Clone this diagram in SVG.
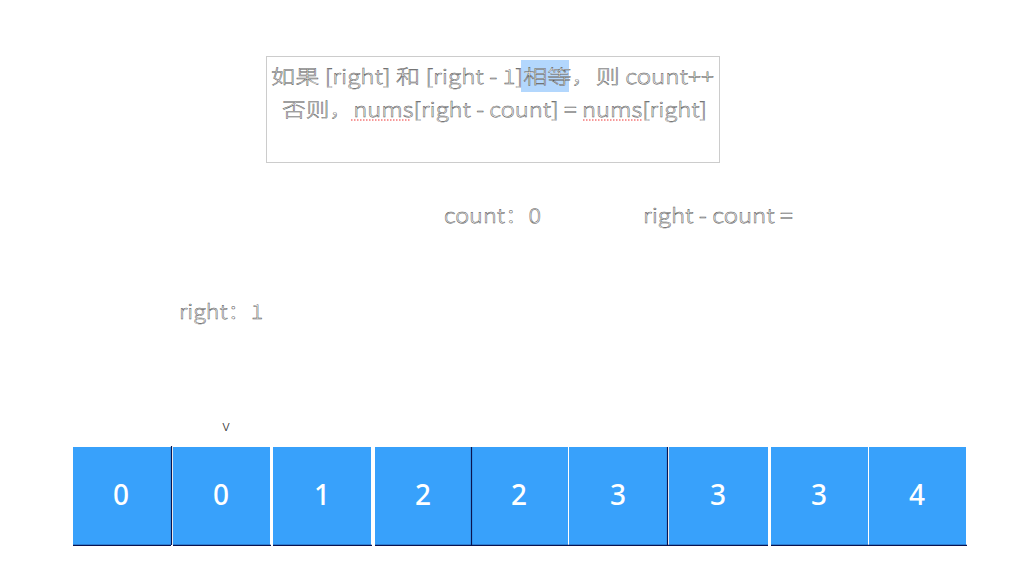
<svg xmlns="http://www.w3.org/2000/svg" width="1012" height="578" viewBox="0 0 1012 578">
<style>
.o{font-family:"Noto Sans CJK SC","Noto Sans",sans-serif;font-weight:300;fill:#fff;stroke:#555;stroke-width:0.45;font-size:20px;text-rendering:geometricPrecision}
.cell{fill:#38a1fb}
.num{font-family:"Noto Sans","Liberation Sans",sans-serif;font-size:28px;fill:#fff;text-anchor:middle;font-weight:500}
.wave{fill:none;stroke:#e33;stroke-width:1;stroke-dasharray:1.5 1.5}
</style>
<rect width="1012" height="578" fill="#fff"/>
<g id="note">
<rect x="266.5" y="56.5" width="453" height="106" fill="#fff" stroke="#ccc" stroke-width="1"/>
<rect x="521" y="60" width="48" height="32" fill="#b3d7fd"/>
<text class="o" x="271" y="84" textLength="443" lengthAdjust="spacingAndGlyphs">如果 [right] 和 [right - 1]相等，则 count++</text>
<text class="o" x="282" y="117" textLength="425" lengthAdjust="spacingAndGlyphs">否则，nums[right - count] = nums[right]</text>
<path class="wave" d="M351 120 H410 M583 120 H642"/>
</g>
<g id="count"><text class="o" x="444" y="223" textLength="97" lengthAdjust="spacingAndGlyphs">count：0</text></g>
<g id="rightcount"><text class="o" x="643" y="223" textLength="150" lengthAdjust="spacingAndGlyphs">right - count =</text></g>
<g id="right"><text class="o" x="179" y="319" textLength="84" lengthAdjust="spacingAndGlyphs">right：1</text></g>
<g id="pointer"><text x="226" y="431" font-family="Noto Sans,sans-serif" font-weight="300" font-size="15" fill="#333" text-anchor="middle">v</text></g>
<g id="array">
<rect class="cell" x="73" y="447" width="98" height="98"/>
<rect class="cell" x="173" y="447" width="97" height="98"/>
<rect class="cell" x="273" y="447" width="98" height="98"/>
<rect class="cell" x="375" y="447" width="96" height="98"/>
<rect class="cell" x="471" y="447" width="97" height="98"/>
<rect class="cell" x="569" y="447" width="98" height="98"/>
<rect class="cell" x="669" y="447" width="99" height="98"/>
<rect class="cell" x="771" y="447" width="97" height="98"/>
<rect class="cell" x="869" y="447" width="97" height="98"/>
<text class="num" x="121" y="505">0</text>
<text class="num" x="221" y="505">0</text>
<text class="num" x="322" y="505">1</text>
<text class="num" x="423" y="505">2</text>
<text class="num" x="519" y="505">2</text>
<text class="num" x="618" y="505">3</text>
<text class="num" x="718" y="505">3</text>
<text class="num" x="819" y="505">3</text>
<text class="num" x="917" y="505">4</text>
</g>
<g id="connectors" stroke="#0a1450" stroke-width="1.2" fill="none">
<path d="M73 545.4 H171 M173 545.4 H271 M273 545.4 H372 M375 545.4 H768 M771 545.4 H967"/>
<path d="M171.5 446 V545 M471.5 447 V545 M667.5 447 V545"/>
</g>
</svg>
